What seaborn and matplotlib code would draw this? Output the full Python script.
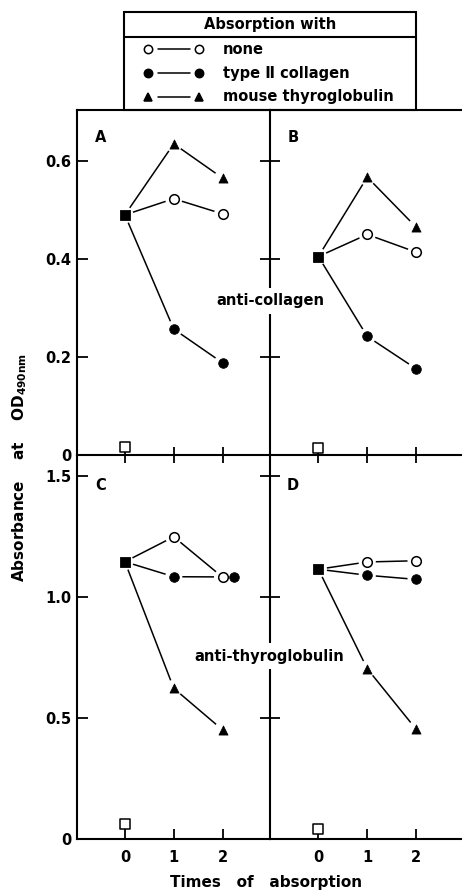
import matplotlib
matplotlib.use("Agg")
import matplotlib.pyplot as plt
import seaborn as sns
from matplotlib.patches import Rectangle

# absorption times (x) and absorbance readings
times = [0, 1, 2]

# panel A / B: anti-collagen
a_none = [0.49, 0.523, 0.492]
a_coll = [0.49, 0.257, 0.188]
a_thyr = [0.49, 0.635, 0.565]
a_blank = 0.016

b_none = [0.405, 0.450, 0.414]
b_coll = [0.405, 0.242, 0.176]
b_thyr = [0.405, 0.567, 0.465]
b_blank = 0.014

# panel C / D: anti-thyroglobulin
c_none = [1.147, 1.250, 1.083]
c_coll = [1.147, 1.085, 1.084]
c_coll_x = [0, 1, 2.24]  # shifted in the original to avoid overlap
c_thyr = [1.147, 0.624, 0.452]
c_blank = 0.064

d_none = [1.116, 1.146, 1.151]
d_coll = [1.116, 1.091, 1.074]
d_thyr = [1.116, 0.705, 0.455]
d_blank = 0.044

legend_labels = ["none", "type \u2161 collagen", "mouse thyroglobulin"]

sns.set_theme(style="white")
plt.rcParams["font.family"] = ["DejaVu Sans"]
plt.rcParams["font.weight"] = "bold"
plt.rcParams["mathtext.default"] = "bf"
for key in ("text.color", "axes.labelcolor", "xtick.color", "ytick.color",
            "axes.edgecolor"):
    plt.rcParams[key] = "black"

W, H = 462, 892
fig = plt.figure(figsize=(W / 100, H / 100), dpi=100)

x_left, x_mid, x_right = 77 / W, 270 / W, 1.0
y_top, y_mid, y_bot = 1 - 110 / H, 1 - 455 / H, 1 - 839.3 / H

ax_a = fig.add_axes([x_left, y_mid, x_mid - x_left, y_top - y_mid])
ax_b = fig.add_axes([x_mid, y_mid, x_right - x_mid, y_top - y_mid])
ax_c = fig.add_axes([x_left, y_bot, x_mid - x_left, y_mid - y_bot])
ax_d = fig.add_axes([x_mid, y_bot, x_right - x_mid, y_mid - y_bot])

LW = 1.1
MS = 48
FS = 10.5


def draw_panel(ax, none, coll, thyr, blank, coll_x=None):
    coll_x = coll_x if coll_x is not None else times
    for xs, ys in [(times, none), (coll_x, coll), (times, thyr)]:
        sns.lineplot(x=xs, y=ys, ax=ax, color="black", lw=LW, sort=False,
                     estimator=None, legend=False, zorder=2)
    # white halos leave small gaps where lines meet markers
    halo_x = [0, 1, 2, coll_x[1], coll_x[2], 1, 2]
    halo_y = [none[0], none[1], none[2], coll[1], coll[2], thyr[1], thyr[2]]
    sns.scatterplot(x=halo_x, y=halo_y, ax=ax, s=MS * 3.2, color="white",
                    edgecolor="none", legend=False, zorder=3)
    sns.scatterplot(x=times[1:], y=none[1:], ax=ax, marker="o", s=MS,
                    color="white", edgecolor="black", linewidth=1.1,
                    legend=False, zorder=4)
    sns.scatterplot(x=coll_x[1:], y=coll[1:], ax=ax, marker="o", s=MS,
                    color="black", edgecolor="black", legend=False, zorder=4)
    sns.scatterplot(x=times[1:], y=thyr[1:], ax=ax, marker="^", s=MS * 0.9,
                    color="black", edgecolor="black", legend=False, zorder=4)
    sns.scatterplot(x=[0], y=[none[0]], ax=ax, marker="s", s=MS * 1.1,
                    color="black", edgecolor="black", legend=False, zorder=4)
    sns.scatterplot(x=[0], y=[blank], ax=ax, marker="s", s=MS * 0.9,
                    color="white", edgecolor="black", linewidth=1.1,
                    legend=False, zorder=4, clip_on=False)


draw_panel(ax_a, a_none, a_coll, a_thyr, a_blank)
draw_panel(ax_b, b_none, b_coll, b_thyr, b_blank)
draw_panel(ax_c, c_none, c_coll, c_thyr, c_blank, coll_x=c_coll_x)
draw_panel(ax_d, d_none, d_coll, d_thyr, d_blank)

for ax in (ax_a, ax_c):
    ax.set_xlim(-0.98, 2.97)
for ax in (ax_b, ax_d):
    ax.set_xlim(-0.99, 2.94)
for ax in (ax_a, ax_b):
    ax.set_ylim(0, 0.704)
for ax in (ax_c, ax_d):
    ax.set_ylim(0, 1.588)

tick_font = dict(fontsize=FS, fontweight="bold")
for ax in (ax_a, ax_b, ax_c, ax_d):
    ax.set_xlabel("")
    ax.set_ylabel("")
    ax.set_facecolor("none")
    for s in ax.spines.values():
        s.set_linewidth(1.5)
        s.set_color("black")
    ax.spines["right"].set_visible(False)
    ax.set_xticks(times)

for ax in (ax_c, ax_d):
    ax.spines["top"].set_visible(False)

# top row: x axis ticks cross the line, no labels
for ax in (ax_a, ax_b):
    ax.tick_params(axis="x", direction="inout", length=12, width=1.3,
                   labelbottom=False, bottom=True)
# bottom row: inward ticks with labels
for ax in (ax_c, ax_d):
    ax.tick_params(axis="x", direction="in", length=7, width=1.3,
                   bottom=True, pad=8)
    ax.set_xticklabels(["0", "1", "2"], **tick_font)

ax_a.set_yticks([0, 0.2, 0.4, 0.6])
ax_a.set_yticklabels(["0", "0.2", "0.4", "0.6"], **tick_font)
ax_c.set_yticks([0, 0.5, 1.0, 1.5])
ax_c.set_yticklabels(["0", "0.5", "1.0", "1.5"], **tick_font)
for ax in (ax_a, ax_c):
    ax.tick_params(axis="y", direction="in", length=8, width=1.3, left=True,
                   pad=4)

ax_b.set_yticks([0.2, 0.4, 0.6])
ax_d.set_yticks([0.5, 1.0, 1.5])
for ax in (ax_b, ax_d):
    ax.tick_params(axis="y", direction="inout", length=14, width=1.3,
                   left=True, labelleft=False)

# panel letters
for ax, letter in [(ax_a, "A"), (ax_b, "B"), (ax_c, "C"), (ax_d, "D")]:
    ax.text(0.12, 0.92, letter, transform=ax.transAxes, ha="center",
            va="center", fontsize=FS, fontweight="bold")

# titles that interrupt the centre divider
box = dict(facecolor="white", edgecolor="none", pad=4)
fig.text(270 / W, 1 - 301 / H, "anti-collagen", ha="center", va="center",
         fontsize=FS, fontweight="bold", bbox=box, zorder=10)
fig.text(269 / W, 1 - 656 / H, "anti-thyroglobulin", ha="center",
         va="center", fontsize=FS, fontweight="bold", bbox=box, zorder=10)

fig.text(20 / W, 1 - 467 / H, "Absorbance    at    OD$_{490nm}$",
         rotation=90, ha="center", va="center", fontsize=FS + 0.5,
         fontweight="bold")
fig.text(266 / W, 1 - 882 / H, "Times   of   absorption", ha="center",
         va="center", fontsize=FS + 0.5, fontweight="bold")

# legend box drawn by hand (header row separated by a rule)
lg = fig.add_axes([124 / W, 1 - 110 / H, 292 / W, 98.3 / H])
lg.set_xlim(0, 1)
lg.set_ylim(0, 1)
lg.axis("off")
lg.add_patch(Rectangle((0, 0), 1, 1, fill=False, lw=1.5, ec="black",
                       clip_on=False))
lg.plot([0, 1], [0.74, 0.74], color="black", lw=1.5, clip_on=False)
lg.text(0.5, 0.87, "Absorption with", ha="center", va="center",
        fontsize=FS, fontweight="bold")
rows = [0.62, 0.375, 0.135]
styles = [("o", "white", 6), ("o", "black", 6), ("^", "black", 5.5)]
for y, (m, fc, ms), label in zip(rows, styles, legend_labels):
    lg.plot([0.115, 0.225], [y, y], color="black", lw=LW)
    lg.plot([0.081, 0.257], [y, y], ls="none", marker=m, ms=ms,
            mfc=fc, mec="black", mew=1.1)
    lg.text(0.338, y, label, ha="left", va="center", fontsize=FS,
            fontweight="bold")

fig.savefig("out.png", dpi=100)
